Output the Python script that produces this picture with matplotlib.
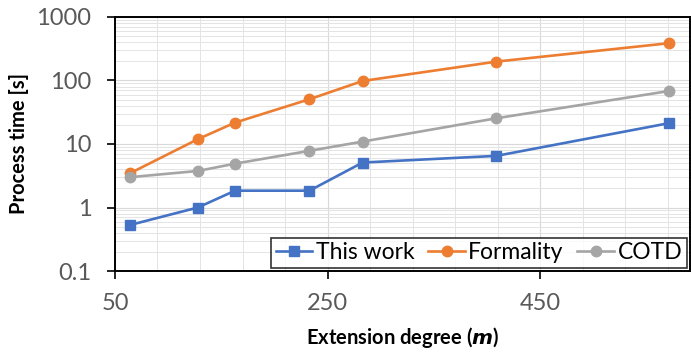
import matplotlib
matplotlib.use("Agg")
import matplotlib.pyplot as plt
from matplotlib.ticker import FixedLocator, MultipleLocator, LogLocator, NullFormatter

plt.rcParams['font.family'] = ['Lato', 'DejaVu Sans']

degree = [64, 128, 163, 233, 283, 409, 571]
this_work = [0.53, 1.0, 1.84, 1.84, 5.1, 6.5, 21.2]
formality = [3.45, 11.9, 21.7, 50.6, 98, 198, 385]
cotd = [3.0, 3.76, 4.9, 7.8, 10.9, 25.4, 68]

fig = plt.figure(figsize=(6.91, 3.52), dpi=100)
ax = fig.add_axes([0.1664, 0.230, 0.832, 0.722])

ax.plot(degree, this_work, color='#4472C4', lw=1.9, marker='s', ms=7, label='This work', zorder=3)
ax.plot(degree, formality, color='#ED7D31', lw=1.9, marker='o', ms=7.5, label='Formality', zorder=3)
ax.plot(degree, cotd, color='#A5A5A5', lw=1.9, marker='o', ms=7.5, label='COTD', zorder=3)

ax.set_yscale('log')
ax.set_ylim(0.1, 1000)
ax.set_xlim(50, 591)
ax.xaxis.set_major_locator(FixedLocator([50, 250, 450]))
ax.xaxis.set_minor_locator(MultipleLocator(40, offset=10))
ax.yaxis.set_major_locator(FixedLocator([0.1, 1, 10, 100, 1000]))
ax.yaxis.set_minor_locator(LogLocator(base=10, subs=range(2, 10), numticks=20))
ax.yaxis.set_minor_formatter(NullFormatter())
ax.set_yticklabels(['0.1', '1', '10', '100', '1000'])

ax.grid(which='major', color='#D9D9D9', lw=0.8)
ax.grid(which='minor', color='#E4E4E4', lw=0.7)
ax.set_axisbelow(True)

for s in ax.spines.values():
    s.set_color('black')
    s.set_linewidth(1.4)

ax.tick_params(axis='both', which='major', direction='out', length=6, width=1.2,
               labelsize=17, labelcolor='#595959')
ax.tick_params(axis='y', pad=11)
ax.tick_params(axis='x', pad=10)
ax.tick_params(axis='both', which='minor', length=0)

ax.set_xlabel('Extension degree ($\\boldsymbol{m}$)', fontsize=14.5, fontweight='bold', labelpad=8)
ax.set_ylabel('Process time [s]', fontsize=14.5, fontweight='bold', labelpad=5)

leg = ax.legend(loc='lower right', ncol=3, fontsize=16.5, frameon=True, fancybox=False,
                edgecolor='black', borderpad=0.2, handlelength=1.6, handletextpad=0.15,
                columnspacing=0.6, borderaxespad=0.13)
leg.get_frame().set_linewidth(1.2)

fig.savefig('out.png', dpi=100)
